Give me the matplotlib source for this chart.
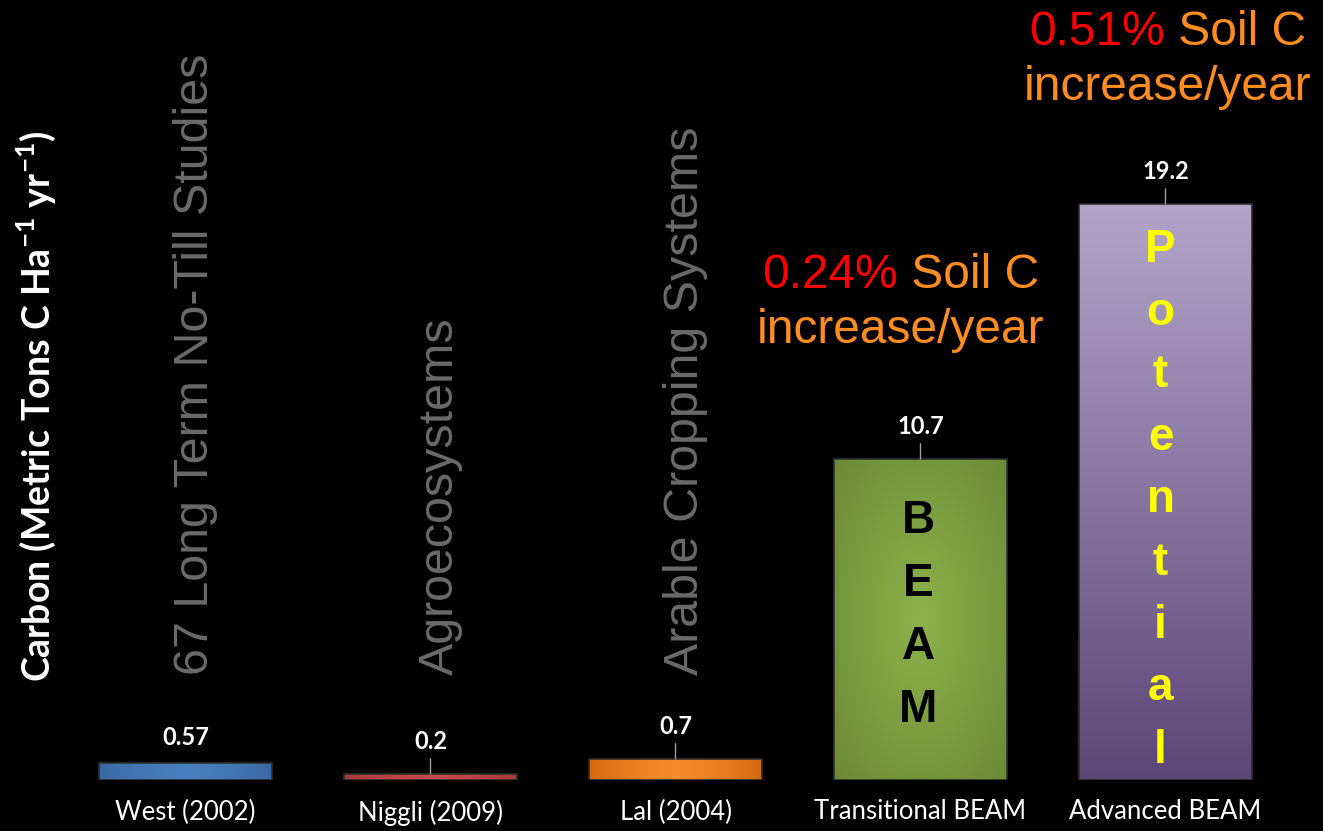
import numpy as np
import matplotlib
matplotlib.use("Agg")
from matplotlib import pyplot as plt
from matplotlib.colors import to_rgb

plt.rcParams['mathtext.fontset'] = 'custom'
plt.rcParams['mathtext.rm'] = 'Lato'
plt.rcParams['mathtext.bf'] = 'Lato:bold'

# carbon sequestration per study / system
studies = ['West (2002)', 'Niggli (2009)', 'Lal (2004)', 'Transitional BEAM', 'Advanced BEAM']
carbon = [0.57, 0.2, 0.7, 10.7, 19.2]
value_labels = ['0.57', '0.2', '0.7', '10.7', '19.2']
study_notes = ['67 Long Term No-Till Studies', 'Agroecosystems', 'Arable Cropping Systems']
soil_pct = ['0.24%', '0.51%']

# (edge colour, centre colour, gradient style) per bar
fills = [('#3a67a2', '#4a80c0', 'h'),
         ('#a43838', '#c54a4a', 'h'),
         ('#d2660f', '#f88c2c', 'h'),
         ('#6c8936', '#8db24b', 'r'),
         ('#5c4677', '#b3a5c9', 'v')]


def gradient(c_out, c_in, kind, n=200):
    xx, yy = np.meshgrid(np.linspace(0, 1, n), np.linspace(0, 1, n))
    if kind == 'h':
        t = 1 - np.abs(xx - 0.5) * 2
        t = t ** 0.7
    elif kind == 'r':
        t = 1 - np.clip(np.hypot(xx - 0.5, yy - 0.5) / 0.72, 0, 1)
    else:
        t = yy  # row 0 is bottom (origin='lower')
    a = np.array(to_rgb(c_out))
    b = np.array(to_rgb(c_in))
    return a + (b - a) * t[..., None]


fig = plt.figure(figsize=(13.23, 8.31), dpi=100, facecolor='black')
ax = fig.add_axes([63 / 1323, 51 / 831, 1225 / 1323, 780 / 831])
ax.set_facecolor('black')

x = np.arange(len(studies))
bw = 0.706
bars = ax.bar(x, carbon, width=bw, color='none', edgecolor='#2e2e2e', lw=1.2, zorder=3)

for bar, (c1, c2, kind) in zip(bars, fills):
    x0, y0 = bar.get_x(), bar.get_y()
    im = ax.imshow(gradient(c1, c2, kind), extent=[x0, x0 + bar.get_width(), y0, y0 + bar.get_height()],
                   origin='lower', aspect='auto', zorder=2, interpolation='bilinear')
    im.set_clip_path(bar)

ax.set_xlim(-0.5, 4.5)
ax.set_ylim(0, 26)

# value labels with short leader lines
for i, (v, lab) in enumerate(zip(carbon, value_labels)):
    if i == 0:
        ax.annotate(lab, xy=(i, v), xytext=(0, 10), textcoords='offset points',
                    ha='center', va='bottom', color='white', fontsize=17,
                    fontweight='bold', family='Lato')
    else:
        ax.annotate(lab, xy=(i, v), xytext=(0, 15), textcoords='offset points',
                    ha='center', va='bottom', color='white', fontsize=17,
                    fontweight='bold', family='Lato',
                    arrowprops=dict(arrowstyle='-', color='#a0a0a0', lw=1, shrinkA=2, shrinkB=0))

# grey rotated captions above the small bars
for i, note in enumerate(study_notes):
    ax.text(i + 0.09, 3.5, note, rotation=90, rotation_mode='anchor', ha='left', va='baseline',
            color='#6a6a6a', fontsize=34.8, family='Liberation Sans')

# letters stacked inside the tall bars
for k, ch in enumerate('BEAM'):
    ax.text(3 - 0.01, 8.23 - 2.1 * k, ch, ha='center', va='baseline', color='black',
            fontsize=33, fontweight='bold', family='Liberation Sans', zorder=5)
for k, ch in enumerate('Potential'):
    ax.text(4 - 0.02, 17.27 - 2.087 * k, ch, ha='center', va='baseline', color='#ffff00',
            fontsize=33, fontweight='bold', family='Liberation Sans', zorder=5)

# soil carbon increase notes
orange = '#ff8c21'
for xc, yb, pct in [(2.92, 16.4, soil_pct[0]), (4.01, 24.5, soil_pct[1])]:
    full = ax.text(xc, yb, pct + ' Soil C', ha='center', va='baseline', fontsize=34.5,
                   family='Liberation Sans', alpha=0)
    ax.annotate(pct, xy=(0, 0), xycoords=full, ha='left', va='bottom', fontsize=34.5,
                family='Liberation Sans', color='#ff0000')
    ax.annotate(' Soil C', xy=(1, 0), xycoords=full, ha='right', va='bottom', fontsize=34.5,
                family='Liberation Sans', color=orange)
    ax.text(xc, yb - 1.82, 'increase/year', ha='center', va='baseline', fontsize=34.5,
            family='Liberation Sans', color=orange)

ax.set_xticks(x)
ax.set_xticklabels(studies, color='white', fontsize=18.5, family='Lato')
ax.tick_params(axis='x', length=0, pad=14)
ax.set_yticks([])
for s in ax.spines.values():
    s.set_visible(False)

fig.text(36 / 1323, 1 - 406 / 831, r'Carbon (Metric Tons C Ha$^{\mathbf{-1}}$ yr$^{\mathbf{-1}}$)',
         rotation=90, ha='center', va='center', color='white', fontsize=27,
         fontweight='bold', family='Lato')

fig.savefig('out.png', dpi=100, facecolor='black')
